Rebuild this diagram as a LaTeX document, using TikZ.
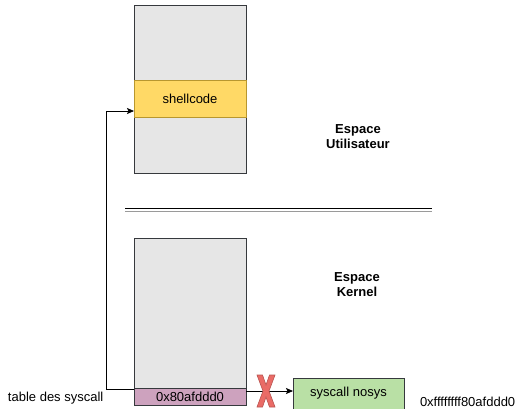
\documentclass[tikz,border=0pt]{standalone}
\usepackage{fontspec}
\setmainfont{Liberation Sans}
\usetikzlibrary{arrows.meta}
\definecolor{boxgray}{HTML}{E6E6E6}
\definecolor{edgegray}{HTML}{36393D}
\definecolor{shellfill}{HTML}{FFD966}
\definecolor{shelledge}{HTML}{B8972F}
\definecolor{purplefill}{HTML}{CDA2BE}
\definecolor{greenfill}{HTML}{B9E0A5}
\definecolor{xfill}{HTML}{EA6B66}
\definecolor{xedge}{HTML}{B85450}
\definecolor{shadowgray}{HTML}{9A9A9A}
\begin{document}
\begin{tikzpicture}[x=1pt,y=-1pt,
  every node/.style={font=\fontsize{13}{15}\selectfont, inner sep=0pt, outer sep=0pt},
  memblock/.style={draw=edgegray, line width=0.8pt, fill=boxgray, minimum width=112pt},
  band/.style={draw=edgegray, line width=0.8pt, minimum width=112pt},
  conn/.style={draw=black, line width=0.7pt, -{Stealth[length=7pt,width=6pt,inset=1.5pt]}},
  zonelabel/.style={font=\fontsize{13}{15}\selectfont\bfseries, align=center}
]
\useasboundingbox (0,0) rectangle (516,408);
\clip (0,0) rectangle (516,408);

% user space block
\node[memblock, minimum height=168pt] (userbox) at (190,89) {};
\node[band, draw=shelledge, fill=shellfill, minimum height=37pt] (shellcode) at (190,98.5) {shellcode};

% kernel block
\node[memblock, minimum height=167pt] (kernelbox) at (190,321.5) {};
\node[band, fill=purplefill, minimum height=17pt] (entry) at (190,396.5) {0x80afddd0};

% syscall nosys
\node[draw=edgegray, line width=0.8pt, fill=greenfill, minimum width=111pt, minimum height=34pt, anchor=north west] (nosys) at (293,378) {};
\node (nosyslabel) at (348.5,393.5) {syscall nosys};

% separator
\draw[shadowgray, line width=1.2pt] (125,211.7) -- (432,211.7);
\draw[black, line width=1.2pt] (125,208.5) -- (432,208.5);

% labels
\node[zonelabel] (ulabel) at (358,136.5) {Espace\\Utilisateur};
\node[zonelabel] (klabel) at (357,284.5) {Espace\\Kernel};
\node[anchor=west] (tablelabel) at (8,398.5) {table des syscall};
\node[anchor=west] (addrlabel) at (420,401.5) {0xffffffff80afddd0};

% connectors
\draw[conn] (entry.west |- 0,389) -- (106,389) -- (106,111) -- (shellcode.west |- 0,111);
\draw[conn] (entry.east |- 0,391) -- (nosys.west |- 0,391);

% red cross
\filldraw[fill=xfill, draw=xedge, line width=0.6pt, line join=miter]
  (257,375) -- (262.5,375) -- (266,385) -- (269.5,375) -- (275,375) -- (269,391)
  -- (275,407) -- (269.5,407) -- (266,397) -- (262.5,407) -- (257,407) -- (263,391) -- cycle;
\end{tikzpicture}
\end{document}
